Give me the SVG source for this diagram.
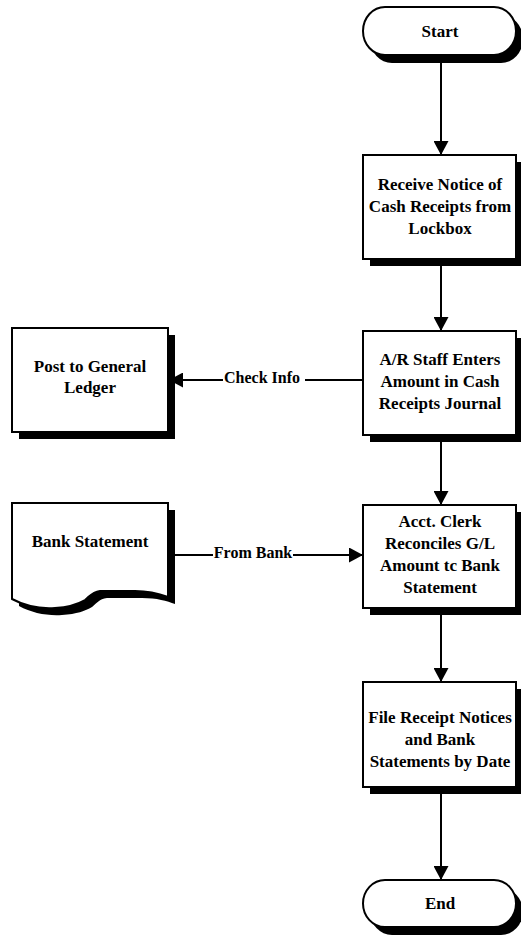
<svg xmlns="http://www.w3.org/2000/svg" width="521" height="943" viewBox="0 0 521 943">
  <defs>
    <style>
      .shape { fill: #fff; stroke: #000; stroke-width: 2; }
      .shadow { fill: #000; stroke: none; }
      .wire { fill: none; stroke: #000; stroke-width: 2; }
      .txt { font-family: "Liberation Serif", "Times New Roman", serif; font-weight: bold; font-size: 17px; fill: #000; text-anchor: middle; }
      .lbl { font-family: "Liberation Serif", "Times New Roman", serif; font-weight: bold; font-size: 16px; fill: #000; text-anchor: middle; }
    </style>
    <marker id="arrow" viewBox="0 0 14 15" refX="14" refY="7.5" markerWidth="14" markerHeight="15" markerUnits="userSpaceOnUse" orient="auto">
      <path d="M0,0 L14,7.5 L0,15 Z" fill="#000"/>
    </marker>
    <path id="doc-outline" d="M12,503 H168 V597 C160,594 150,591 135,591 L100,591 C92,592 90,596 85,600 C78,604 70,607 55,608 C40,609 25,606 12,599 Z"/>
  </defs>

  <rect width="521" height="943" fill="#fff"/>

  <!-- flow lines -->
  <g id="connectors">
    <line class="wire" x1="441" y1="55" x2="441" y2="155" marker-end="url(#arrow)"/>
    <line class="wire" x1="441" y1="259" x2="441" y2="331" marker-end="url(#arrow)"/>
    <line class="wire" x1="441" y1="435" x2="441" y2="505" marker-end="url(#arrow)"/>
    <line class="wire" x1="441" y1="608" x2="441" y2="682" marker-end="url(#arrow)"/>
    <line class="wire" x1="441" y1="787" x2="441" y2="880" marker-end="url(#arrow)"/>
    <!-- Check Info: journal to ledger -->
    <line class="wire" x1="363" y1="380" x2="305" y2="380"/>
    <line class="wire" x1="223" y1="380" x2="169" y2="380" marker-end="url(#arrow)"/>
    <text class="lbl" x="262" y="383">Check Info</text>
    <!-- From Bank: statement to reconciliation -->
    <line class="wire" x1="168" y1="555" x2="213" y2="555"/>
    <line class="wire" x1="293" y1="555" x2="363" y2="555" marker-end="url(#arrow)"/>
    <text class="lbl" x="253" y="558">From Bank</text>
  </g>

  <g id="node-start">
    <rect class="shadow" x="370" y="15" width="153" height="48" rx="22" ry="24"/>
    <rect class="shape" x="363" y="7" width="153" height="48" rx="22" ry="24"/>
    <text class="txt" x="440" y="37">Start</text>
  </g>

  <g id="node-receive">
    <rect class="shadow" x="370" y="162" width="153" height="104"/>
    <rect class="shape" x="363" y="155" width="153" height="104"/>
    <text class="txt" x="440" y="190">Receive Notice of</text>
    <text class="txt" x="440" y="212">Cash Receipts from</text>
    <text class="txt" x="440" y="234">Lockbox</text>
  </g>

  <g id="node-enter">
    <rect class="shadow" x="370" y="338" width="153" height="104"/>
    <rect class="shape" x="363" y="331" width="153" height="104"/>
    <text class="txt" x="440" y="365">A/R Staff Enters</text>
    <text class="txt" x="440" y="387">Amount in Cash</text>
    <text class="txt" x="440" y="409">Receipts Journal</text>
  </g>

  <g id="node-post">
    <rect class="shadow" x="19" y="335" width="156" height="104"/>
    <rect class="shape" x="12" y="328" width="156" height="104"/>
    <text class="txt" x="90" y="372">Post to General</text>
    <text class="txt" x="90" y="393">Ledger</text>
  </g>

  <g id="node-bank">
    <use href="#doc-outline" class="shadow" transform="translate(7,7)"/>
    <use href="#doc-outline" class="shape"/>
    <text class="txt" x="90" y="547">Bank Statement</text>
  </g>

  <g id="node-reconcile">
    <rect class="shadow" x="370" y="512" width="153" height="103"/>
    <rect class="shape" x="363" y="505" width="153" height="103"/>
    <text class="txt" x="440" y="527">Acct. Clerk</text>
    <text class="txt" x="440" y="549">Reconciles G/L</text>
    <text class="txt" x="440" y="571">Amount tc Bank</text>
    <text class="txt" x="440" y="593">Statement</text>
  </g>

  <g id="node-file">
    <rect class="shadow" x="370" y="689" width="153" height="105"/>
    <rect class="shape" x="363" y="682" width="153" height="105"/>
    <text class="txt" x="440" y="723">File Receipt Notices</text>
    <text class="txt" x="440" y="745">and Bank</text>
    <text class="txt" x="440" y="767">Statements by Date</text>
  </g>

  <g id="node-end">
    <rect class="shadow" x="370" y="888" width="153" height="47" rx="22" ry="23.5"/>
    <rect class="shape" x="363" y="880" width="153" height="47" rx="22" ry="23.5"/>
    <text class="txt" x="440" y="909">End</text>
  </g>
</svg>
